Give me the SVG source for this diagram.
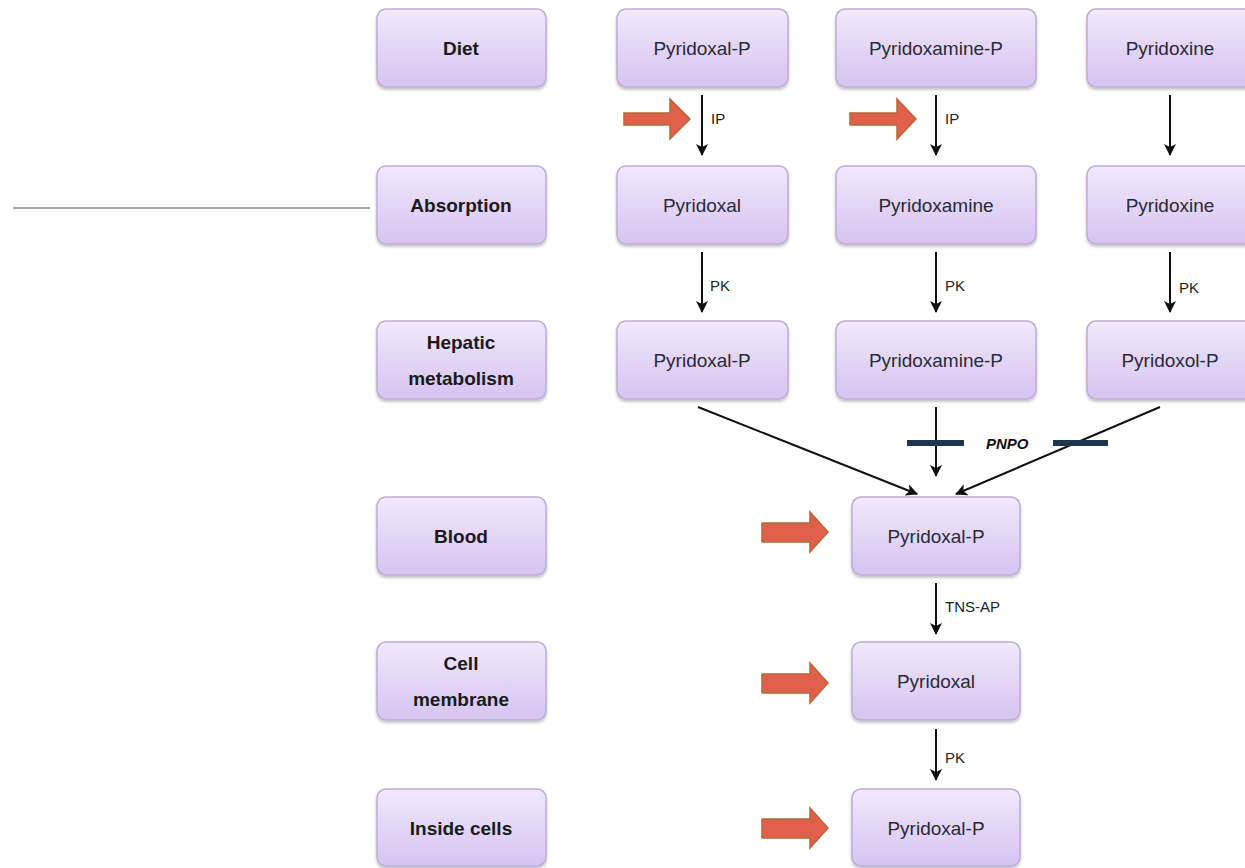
<svg xmlns="http://www.w3.org/2000/svg" width="1245" height="868" viewBox="0 0 1245 868">
<defs>
<linearGradient id="g" x1="0" y1="0" x2="0" y2="1">
<stop offset="0" stop-color="#f1e9fc"/>
<stop offset="1" stop-color="#d6c3f1"/>
</linearGradient>
<filter id="sh" x="-10%" y="-10%" width="120%" height="130%">
<feDropShadow dx="0" dy="2" stdDeviation="1.5" flood-color="#000" flood-opacity="0.25"/>
</filter>
<marker id="ah" markerWidth="12" markerHeight="12" refX="11" refY="6" orient="auto" markerUnits="userSpaceOnUse">
<path d="M0,0 L12,6 L0,12 L3,6 Z" fill="#111"/>
</marker>
</defs>
<style>
.box{fill:url(#g);stroke:#bcaed2;stroke-width:1.5;filter:url(#sh)}
.t{font-family:"Liberation Sans",Arial,sans-serif;font-size:19px;fill:#2a2a3a;text-anchor:middle;dominant-baseline:central}
.b{font-weight:bold;fill:#1a1a1a}
.lab{font-family:"Liberation Sans",Arial,sans-serif;font-size:15px;fill:#222}
.con{stroke:#111;stroke-width:2;fill:none;marker-end:url(#ah)}
.red{fill:#e0604c;stroke:#b5683a;stroke-width:1.5}
.bar{stroke:#1e3550;stroke-width:6}
</style>
<line x1="13" y1="208" x2="370" y2="208" stroke="#8a8a8a" stroke-width="1.5"/>
<g id="n-diet"><rect class="box" x="377" y="9" width="169" height="78" rx="9"/><text class="t b" x="461" y="48">Diet</text></g>
<g id="n-absorption"><rect class="box" x="377" y="166" width="169" height="78" rx="9"/><text class="t b" x="461" y="205">Absorption</text></g>
<g id="n-hepatic"><rect class="box" x="377" y="321" width="169" height="78" rx="9"/><text class="t b" x="461" y="342">Hepatic</text><text class="t b" x="461" y="378">metabolism</text></g>
<g id="n-blood"><rect class="box" x="377" y="497" width="169" height="78" rx="9"/><text class="t b" x="461" y="536">Blood</text></g>
<g id="n-cell"><rect class="box" x="377" y="642" width="169" height="78" rx="9"/><text class="t b" x="461" y="663">Cell</text><text class="t b" x="461" y="699">membrane</text></g>
<g id="n-inside"><rect class="box" x="377" y="789" width="169" height="77" rx="9"/><text class="t b" x="461" y="828">Inside cells</text></g>

<g id="n-plp1"><rect class="box" x="617" y="9" width="171" height="78" rx="9"/><text class="t" x="702" y="48">Pyridoxal-P</text></g>
<g id="n-pmp1"><rect class="box" x="836" y="9" width="200" height="78" rx="9"/><text class="t" x="936" y="48">Pyridoxamine-P</text></g>
<g id="n-pn1"><rect class="box" x="1087" y="9" width="170" height="78" rx="9"/><text class="t" x="1170" y="48">Pyridoxine</text></g>

<g id="n-pl2"><rect class="box" x="617" y="166" width="171" height="78" rx="9"/><text class="t" x="702" y="205">Pyridoxal</text></g>
<g id="n-pm2"><rect class="box" x="836" y="166" width="200" height="78" rx="9"/><text class="t" x="936" y="205">Pyridoxamine</text></g>
<g id="n-pn2"><rect class="box" x="1087" y="166" width="170" height="78" rx="9"/><text class="t" x="1170" y="205">Pyridoxine</text></g>

<g id="n-plp3"><rect class="box" x="617" y="321" width="171" height="78" rx="9"/><text class="t" x="702" y="360">Pyridoxal-P</text></g>
<g id="n-pmp3"><rect class="box" x="836" y="321" width="200" height="78" rx="9"/><text class="t" x="936" y="360">Pyridoxamine-P</text></g>
<g id="n-pnp3"><rect class="box" x="1087" y="321" width="170" height="78" rx="9"/><text class="t" x="1170" y="360">Pyridoxol-P</text></g>

<g id="n-plp-blood"><rect class="box" x="852" y="497" width="168" height="78" rx="9"/><text class="t" x="936" y="536">Pyridoxal-P</text></g>
<g id="n-pl-cell"><rect class="box" x="852" y="642" width="168" height="78" rx="9"/><text class="t" x="936" y="681">Pyridoxal</text></g>
<g id="n-plp-inside"><rect class="box" x="852" y="789" width="168" height="77" rx="9"/><text class="t" x="936" y="828">Pyridoxal-P</text></g>

<g id="connectors">
<line class="con" x1="702" y1="95" x2="702" y2="155"/>
<line class="con" x1="936" y1="95" x2="936" y2="155"/>
<line class="con" x1="1170" y1="95" x2="1170" y2="155"/>
<line class="con" x1="702" y1="252" x2="702" y2="312"/>
<line class="con" x1="936" y1="252" x2="936" y2="312"/>
<line class="con" x1="1170" y1="252" x2="1170" y2="312"/>
<line class="con" x1="698" y1="407" x2="917" y2="494"/>
<line class="con" x1="936" y1="407" x2="936" y2="476"/>
<line class="con" x1="1160" y1="407" x2="956" y2="494"/>
<line class="con" x1="936" y1="583" x2="936" y2="634"/>
<line class="con" x1="936" y1="729" x2="936" y2="780"/>
<text class="lab" x="711" y="124">IP</text>
<text class="lab" x="945" y="124">IP</text>
<text class="lab" x="710" y="291">PK</text>
<text class="lab" x="945" y="291">PK</text>
<text class="lab" x="1179" y="293">PK</text>
<text class="lab" x="945" y="612">TNS-AP</text>
<text class="lab" x="945" y="763">PK</text>
<line class="bar" x1="907" y1="443" x2="964" y2="443"/>
<line class="bar" x1="1053" y1="443" x2="1108" y2="443"/>
<text x="986" y="449" font-family="Liberation Sans,Arial,sans-serif" font-size="15" font-weight="bold" font-style="italic" fill="#111">PNPO</text>
</g>

<g id="red-arrows">
<path class="red" d="M624,113 H670 V99 L690,119 L670,139 V125 H624 Z"/>
<path class="red" d="M850,113 H897 V99 L916,119 L897,139 V125 H850 Z"/>
<path class="red" d="M762,523 H810 V512 L828,532 L810,552 V542 H762 Z"/>
<path class="red" d="M762,674 H810 V663 L828,683 L810,703 V693 H762 Z"/>
<path class="red" d="M762,819 H810 V808 L828,828 L810,848 V838 H762 Z"/>
</g>
</svg>
